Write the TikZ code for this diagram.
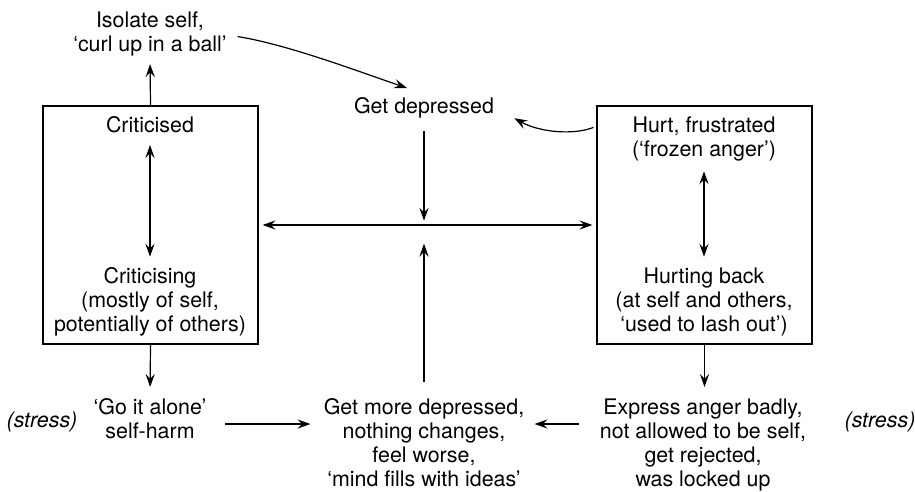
\documentclass[tikz,border=0pt]{standalone}
\usepackage{fontspec}
\setmainfont{TeX Gyre Heros}
\usetikzlibrary{arrows.meta,calc}

\begin{document}
\begin{tikzpicture}[x=0.5pt,y=-0.5pt,
  txt/.style={align=center,inner sep=0pt,anchor=north,
    font=\fontsize{10.7}{12}\selectfont},
  stressnote/.style={txt,font=\fontsize{10.7}{12}\selectfont\itshape},
  loopbox/.style={draw,line width=0.6pt,minimum width=107.5pt,
    minimum height=119pt,inner sep=0pt},
  arr/.style={line width=0.6pt,-{Stealth[length=6.5pt,width=4.6pt,inset=2.4pt]}},
  dbl/.style={line width=0.6pt,{Stealth[length=6.5pt,width=4.6pt,inset=2.4pt]}-{Stealth[length=6.5pt,width=4.6pt,inset=2.4pt]}}]

\useasboundingbox (0,0) rectangle (915,492);

% the two loops
\node[loopbox] (lbox) at (150.5,225) {};
\node[loopbox] (rbox) at (704.5,225) {};

% texts
\node[txt] (iso)   at (150,11.5)  {Isolate self,\\‘curl up in a ball’};
\node[txt] (crd)   at (150,116.5) {Criticised};
\node[txt] (crg)   at (150,267.5) {Criticising\\(mostly of self,\\potentially of others)};
\node[txt] (dep)   at (424,97.5)  {Get depressed};
\node[txt] (hrt)   at (704,116.5) {Hurt, frustrated\\(‘frozen anger’)};
\node[txt] (hbk)   at (704,267.5) {Hurting back\\(at self and others,\\‘used to lash out’)};
\node[txt] (alone) at (150,398.5) {‘Go it alone’\\self-harm};
\node[txt] (more)  at (424,398.5) {Get more depressed,\\nothing changes,\\feel worse,\\‘mind fills with ideas’};
\node[txt] (expr)  at (703,398.5) {Express anger badly,\\not allowed to be self,\\get rejected,\\was locked up};
\node[stressnote] (s1) at (42,411.5)  {(stress)};
\node[stressnote] (s2) at (880,411.5) {(stress)};

\coordinate (hub) at (dep.south |- lbox.east);

% vertical links
\draw[arr] (lbox.north) -- (iso.south) [shorten >=3.75pt];
\draw[dbl, shorten <=5.65pt, shorten >=5.4pt] (crd.south) -- (crg.north);
\draw[dbl, shorten <=4.85pt, shorten >=5.4pt] (hrt.south) -- (hbk.north);
\draw[arr, shorten >=5.75pt] (lbox.south) -- (alone.north);
\draw[arr, shorten >=5.75pt] (rbox.south) -- (expr.north -| rbox.south);
\draw[arr, shorten <=6.25pt, shorten >=2.15pt] (dep.south) -- (hub);
\draw[arr, shorten <=8.25pt, shorten >=9.35pt] (more.north) -- (hub);

% horizontal links
\draw[dbl, shorten <=2pt, shorten >=2pt] (lbox.east) -- (rbox.west);
\draw[arr, shorten <=9.25pt, shorten >=6.5pt]
  ([yshift=-12.75pt]alone.north east) -- ([yshift=-12.75pt]more.north west);
\draw[arr, shorten <=10.5pt, shorten >=5pt]
  ([yshift=-12.75pt]expr.north west) -- ([yshift=-12.75pt]more.north east);

% curved links into "Get depressed"
\draw[arr] ($(iso.east)+(10.5,2.5)$) .. controls +(50,8) and +(-50,-17) .. ($(dep.north)+(-17,-9.5)$);
\draw[arr] ($(rbox.north west)+(-3,22)$) .. controls +(-20,8) and +(25,14) .. ($(dep.east)+(20,10)$);

\end{tikzpicture}
\end{document}
